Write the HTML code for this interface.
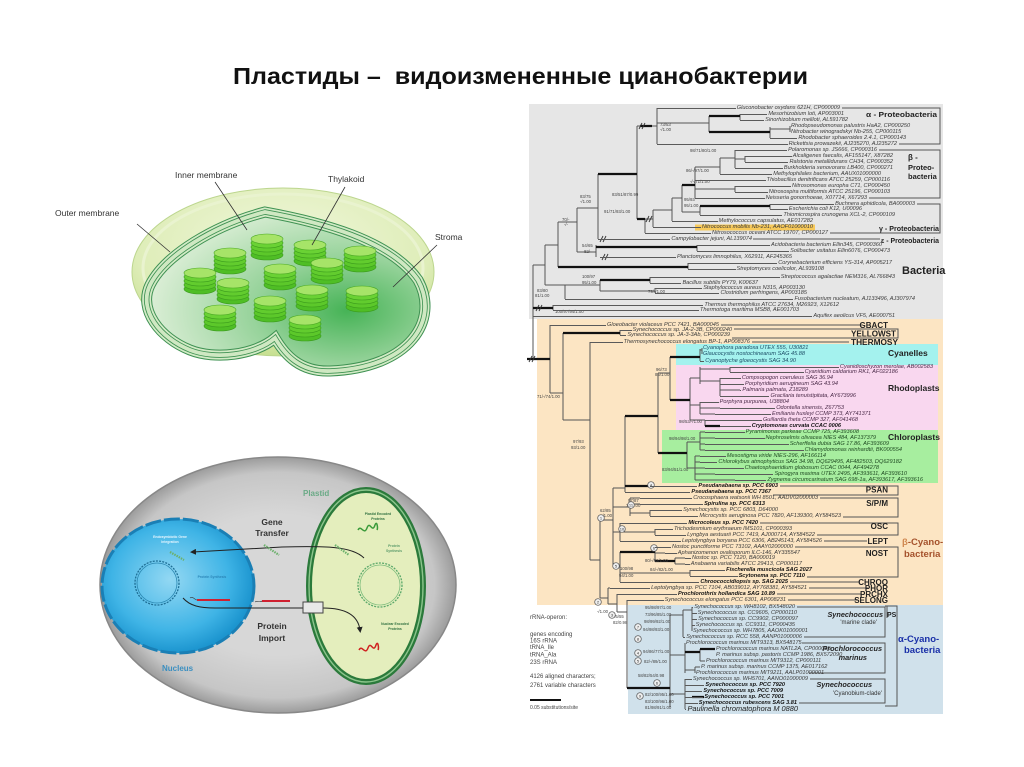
<!DOCTYPE html>
<html><head><meta charset="utf-8">
<style>
html,body{margin:0;padding:0;background:#fff}
#w{position:relative;width:1024px;height:767px;overflow:hidden;background:#fff}
svg{position:absolute;left:0;top:0}
.l{position:absolute;height:6px;display:flex;align-items:center;font:italic 5.6px/6px "Liberation Sans",sans-serif;color:#3a3a3a;white-space:nowrap}
.l:before{content:"";flex:1;border-top:1px solid #5a5a5a;margin-right:1px;min-width:0}
.b{font-weight:bold;color:#111}
.c{color:#1d4d66}
.p{color:#4a2a48}
.g{color:#1f4a22}
</style></head><body><div id="w">
<svg width="1024" height="767" viewBox="0 0 1024 767" font-family="Liberation Sans, sans-serif">
<defs>
<radialGradient id="disk" cx="0.5" cy="0.35" r="0.65"><stop offset="0" stop-color="#f1f7dc"/><stop offset="0.75" stop-color="#deedb8"/><stop offset="1" stop-color="#c6df90"/></radialGradient>
<radialGradient id="heart" cx="0.72" cy="0.62" r="0.75"><stop offset="0" stop-color="#46b356"/><stop offset="0.45" stop-color="#97d39b"/><stop offset="1" stop-color="#e2f1dc"/></radialGradient>
<radialGradient id="cellg" cx="0.5" cy="0.5" r="0.5"><stop offset="0.55" stop-color="#d7d7d7"/><stop offset="0.88" stop-color="#c6c6c6"/><stop offset="1" stop-color="#9c9c9c"/></radialGradient>
<radialGradient id="nucg" cx="0.45" cy="0.45" r="0.55"><stop offset="0" stop-color="#93d8f3"/><stop offset="0.7" stop-color="#3fb4e6"/><stop offset="1" stop-color="#1c95cf"/></radialGradient>
<g id="stk">
<ellipse cx="0" cy="17" rx="16" ry="5" fill="#4fbe25" stroke="#3a9a1c" stroke-width=".6"/>
<ellipse cx="0" cy="13" rx="16" ry="5" fill="#5cc82a" stroke="#3a9a1c" stroke-width=".6"/>
<ellipse cx="0" cy="9" rx="16" ry="5" fill="#62cc2e" stroke="#3a9a1c" stroke-width=".6"/>
<ellipse cx="0" cy="5" rx="16" ry="5" fill="#6ad234" stroke="#3a9a1c" stroke-width=".6"/>
<ellipse cx="0" cy="1" rx="16" ry="5" fill="#a6e468" stroke="#4aa824" stroke-width=".6"/>
</g>
<marker id="ah" markerWidth="6" markerHeight="6" refX="3" refY="3" orient="auto"><path d="M0 0L6 3L0 6Z" fill="#222"/></marker>
</defs>

<!-- Title -->
<text x="233" y="84" font-size="23" font-weight="bold" fill="#111" textLength="575" lengthAdjust="spacingAndGlyphs" style="white-space:pre">Пластиды –  видоизмененные цианобактерии</text>

<!-- Chloroplast -->
<ellipse cx="283" cy="272" rx="151" ry="84" fill="url(#disk)" stroke="#bcd68e" stroke-width="1"/>
<ellipse cx="283" cy="268" rx="140" ry="74" fill="none" stroke="#e9f3cf" stroke-width="3"/>
<path d="M265 212 C320 222 390 240 418 280 C440 320 410 368 330 371 C300 372 285 355 275 338 C255 355 215 360 190 350 C160 338 138 310 150 285 C165 255 215 225 265 212 Z" fill="url(#heart)" stroke="#3e9152" stroke-width="11"/>
<path d="M265 212 C320 222 390 240 418 280 C440 320 410 368 330 371 C300 372 285 355 275 338 C255 355 215 360 190 350 C160 338 138 310 150 285 C165 255 215 225 265 212 Z" fill="none" stroke="#d3ebc6" stroke-width="9"/>
<path d="M265 212 C320 222 390 240 418 280 C440 320 410 368 330 371 C300 372 285 355 275 338 C255 355 215 360 190 350 C160 338 138 310 150 285 C165 255 215 225 265 212 Z" fill="none" stroke="#3e9152" stroke-width="5.5"/>
<path d="M265 212 C320 222 390 240 418 280 C440 320 410 368 330 371 C300 372 285 355 275 338 C255 355 215 360 190 350 C160 338 138 310 150 285 C165 255 215 225 265 212 Z" fill="none" stroke="#cfe8c2" stroke-width="3.8"/>
<use href="#stk" x="267" y="238"/>
<use href="#stk" x="310" y="244"/>
<use href="#stk" x="360" y="250"/>
<use href="#stk" x="230" y="252"/>
<use href="#stk" x="327" y="262"/>
<use href="#stk" x="280" y="268"/>
<use href="#stk" x="200" y="272"/>
<use href="#stk" x="233" y="282"/>
<use href="#stk" x="312" y="289"/>
<use href="#stk" x="362" y="290"/>
<use href="#stk" x="270" y="300"/>
<use href="#stk" x="220" y="309"/>
<use href="#stk" x="305" y="319"/>
<g stroke="#333" stroke-width=".8">
<path d="M215 182L247 230"/><path d="M345 187L312 245"/><path d="M137 224L170 252"/><path d="M437 245L393 287"/>
</g>
<g font-size="8.5" fill="#333">
<text x="175" y="178">Inner membrane</text>
<text x="328" y="182">Thylakoid</text>
<text x="55" y="216">Outer membrane</text>
<text x="435" y="240">Stroma</text>
</g>

<!-- Cell diagram -->
<ellipse cx="278" cy="585" rx="178" ry="128" fill="url(#cellg)" stroke="#888" stroke-width="1.5"/>
<ellipse cx="178" cy="586" rx="76" ry="67" fill="url(#nucg)" stroke="#1a7fb5" stroke-width="3" stroke-dasharray="16 3"/>
<circle cx="157" cy="583" r="22" fill="none" stroke="#1e6f96" stroke-width="1.3" stroke-dasharray="2 1.2"/>
<circle cx="157" cy="583" r="20" fill="none" stroke="#2a86b0" stroke-width=".8"/>
<ellipse cx="366" cy="586" rx="57" ry="96" fill="#e4eebd" stroke="#2b7a3b" stroke-width="6"/>
<ellipse cx="366" cy="586" rx="57" ry="96" fill="none" stroke="#8cc58c" stroke-width="1.4"/>
<circle cx="380" cy="585" r="22" fill="none" stroke="#5aa86a" stroke-width="1.3" stroke-dasharray="2 1.2"/>
<circle cx="380" cy="585" r="20" fill="none" stroke="#7cbc7c" stroke-width=".8"/>
<path d="M364 558 C352 546 325 546 282 547 L193 552" fill="none" stroke="#222" stroke-width="1" marker-end="url(#ah)"/>
<path d="M183 598 C190 606 200 608 215 608 L303 608" fill="none" stroke="#222" stroke-width="1"/>
<path d="M323 608 C345 608 358 615 360 630" fill="none" stroke="#222" stroke-width="1" marker-end="url(#ah)"/>
<rect x="303" y="602" width="20" height="11" fill="#e8e8e8" stroke="#444" stroke-width="1"/>
<g stroke="#6bb06b" stroke-width="2.2" stroke-dasharray="1.5 1">
<path d="M170 552L184 560"/><path d="M264 545L279 555"/><path d="M335 545L349 555"/>
</g>
<path d="M197 600L230 600" stroke="#d02030" stroke-width="2"/><path d="M190 598 C193 596 195 600 197 600" stroke="#333" fill="none" stroke-width=".6"/>
<path d="M262 601L290 601" stroke="#d02030" stroke-width="2"/><path d="M255 602 C258 600 260 603 262 601" stroke="#333" fill="none" stroke-width=".6"/>
<path d="M358 530 c3 -6 6 6 9 -2 c3 -8 5 6 8 -3 c2 -5 3 3 2 5" stroke="#3a9a3a" stroke-width="1.5" fill="none"/>
<path d="M359 650 c3 -6 6 6 9 -2 c3 -8 5 6 8 -3 c2 -5 3 3 2 5" stroke="#d02020" stroke-width="1.5" fill="none"/>
<g font-weight="bold" fill="#333" font-size="8.5" text-anchor="middle">
<text x="272" y="525">Gene</text><text x="272" y="536">Transfer</text>
<text x="272" y="629">Protein</text><text x="272" y="641">Import</text>
</g>
<text x="303" y="496" font-size="8" font-weight="bold" fill="#6aaa86">Plastid</text>
<text x="162" y="671" font-size="8" font-weight="bold" fill="#3b8fc0">Nucleus</text>
<g font-size="3.4" font-weight="bold" text-anchor="middle">
<text x="170" y="538" fill="#e6f6ff">Endosymbiotic Gene</text><text x="170" y="543" fill="#e6f6ff">Integration</text>
<text x="212" y="578" fill="#2b86b8">Protein Synthesis</text>
<text x="378" y="515" fill="#2f6f3f">Plastid Encoded</text><text x="378" y="520" fill="#2f6f3f">Proteins</text>
<text x="394" y="547" fill="#5a9a6a">Protein</text><text x="394" y="552" fill="#5a9a6a">Synthesis</text>
<text x="395" y="625" fill="#2f6f3f">Nuclear Encoded</text><text x="395" y="630" fill="#2f6f3f">Proteins</text>
</g>

<!-- Tree panels -->
<rect x="529" y="104" width="414" height="215" fill="#e6e6e6"/>
<rect x="537" y="319" width="406" height="286" fill="#fce5c3"/>
<rect x="628" y="605" width="315" height="109" fill="#d0e1eb"/>
<rect x="676" y="344" width="262" height="21" fill="#a4f2ee"/>
<rect x="676" y="365" width="262" height="65" fill="#f9d7ef"/>
<rect x="662" y="430" width="276" height="53" fill="#a7ee9f"/>
<rect x="695" y="224.5" width="120" height="6" fill="#f7c95a"/>

<!-- tree thin lines -->
<g stroke="#555" stroke-width="1" fill="none">
<path d="M657 108V144 M637 126H657 M657 123H709 M709 116V132 M740 114V120 M770 127V138 M770 129H790 M790 126V132"/>
<path d="M695 167V198 M695 167H720 M720 158V174 M720 158H735 M735 150V168 M735 159H745 M745 156V162 M695 189H735 M735 186V192"/>
<path d="M682 185V212 M682 212H700 M700 206V215 M770 204V209 M672 198V221 M672 198H682 M653 210V227 M653 210H672 M645 219V233 M645 219H653 M637 126V219"/>
<path d="M598 174V239 M577 208V252 M577 208H598 M577 252H596 M596 245V257 M697 245V251 M558 222V267 M558 222H577 M688 263V269"/>
<path d="M545 245V285 M545 245H558 M545 285H565 M533 265V360 M533 265H545 M565 285V299 M565 285H600 M600 280V291 M600 291H655 M655 288V293 M650 277V283 M553 305V310"/>
<path d="M550 325V393 M550 393H563 M563 333V420 M620 330V335 M563 420H590 M590 342V560"/>
<path d="M658 373V453 M658 373H670 M670 357V400 M700 349V361 M700 350H702 M702 348V354"/>
<path d="M690 378V420 M690 378H700 M700 367V384 M700 369H730 M730 367V372 M700 381H720 M720 378V396 M720 390H740 M690 405H700 M700 402V414 M700 408H720 M700 414H715 M690 420H705 M705 420V426"/>
<path d="M687 442V468 M687 442H700 M700 432V450 M700 432H705 M700 438H715 M700 444H705 M700 450H705 M687 468H695 M695 456V480 M695 456H700 M695 462H700 M695 468H705 M695 474H715 M695 480H735"/>
<path d="M590 560H600 M600 520V598 M600 520H613 M613 488V567 M613 488H625 M625 416V492"/>
<path d="M613 507H630 M630 498V516 M630 498H640 M630 504H640 M630 513H650 M650 510V516"/>
<path d="M613 532H620 M620 523V541 M620 532H655 M655 529V535"/>
<path d="M613 567H620 M620 552V582 M655 547V561 M655 553H665 M675 558V564 M675 558H685 M675 564H685 M620 573H690 M690 570V576"/>
<path d="M600 598H608 M608 588V604 M608 588H610 M608 604H617 M617 594V612 M617 612H627 M627 600V688 M670 615V707"/>
<path d="M670 615H683 M683 610V637 M683 610H692 M692 607V631 M670 655H685 M685 643V673 M700 649V661 M700 661H705 M685 670H695 M695 667V673 M695 667H700 M670 694H685 M685 679V709"/>
<!-- group brackets -->
<path d="M842 108H940V144H899 M879 150H940V198H869 M917 204H940V233H830 M753 239H880"/>
<path d="M721 325H863 M734 329H898V338H732 M752 342H849"/>
<path d="M780 486H898V495H773 M820 498H898V517H843 M760 523H898V535H817 M824 541H867 M795 547H898V577H807 M790 582H860 M809 588H868 M777 594H861 M788 600H857"/>
<path d="M797 607H885V637H804 M802 643H885V673H809 M810 679H885V703H799 M885 606H897V706H885 M887 606V618"/>
</g>
<!-- thick branches -->
<g stroke="#111" stroke-width="2.3" fill="none">
<path d="M709 116H740 M709 132H770 M640 126H652 M682 185H695 M700 206H770 M598 174H637 M637 219H645 M596 247H697 M558 267H688 M600 280H650 M533 308H553"/>
<path d="M527 359H550 M563 333H620 M670 357H700 M670 400H690 M625 416H658 M658 453H687 M705 426H720 M625 486H650 M620 552H655 M655 561H675 M627 688H670 M685 652H700 M700 649H715 M692 697H704"/>
</g>
<g stroke="#333" stroke-width=".9">
<path d="M639 129l3 -6 M642 129l3 -6 M602 260l3 -6 M605 260l3 -6 M536 311l3 -6 M539 311l3 -6 M529 362l3 -6 M532 362l3 -6 M646 222l3 -6 M649 222l3 -6 M600 242l3 -6 M603 242l3 -6"/>
</g>

<!-- node labels -->
<g font-size="4.3" fill="#444">
<text x="660" y="126">73/53</text><text x="660" y="131">-/1.00</text>
<text x="580" y="198">83/75</text><text x="580" y="203">-/1.00</text>
<text x="562" y="221">70/-</text><text x="564" y="226">-/-</text>
<text x="604" y="213">91/71/93/1.00</text><text x="612" y="196">83/51/87/0.99</text>
<text x="684" y="201">95/93</text><text x="684" y="207">95/1.00</text>
<text x="686" y="172">86/-/97/1.00</text><text x="690" y="152">98/71/80/1.00</text><text x="690" y="183">-/-/71/1.00</text>
<text x="582" y="247">54/65</text><text x="584" y="253">82/-</text>
<text x="582" y="278">100/97</text><text x="582" y="284">95/1.00</text>
<text x="537" y="292">83/80</text><text x="535" y="297">81/1.00</text>
<text x="648" y="293">79/-/1.00</text><text x="555" y="313">100/97/94/1.00</text>
<text x="537" y="398">71/-/74/1.00</text>
<text x="573" y="443">97/93</text><text x="571" y="449">93/1.00</text>
<text x="656" y="371">96/73</text><text x="655" y="376">85/1.00</text>
<text x="669" y="440">98/94/98/1.00</text><text x="662" y="471">83/94/51/1.00</text><text x="679" y="423">98/53/-/1.00</text>
<text x="628" y="502">97/87</text><text x="626" y="507">74/1.00</text>
<text x="600" y="512">62/85</text><text x="601" y="517">-/1.00</text>
<text x="645" y="562">80/-/82/1.00</text><text x="650" y="571">84/-/82/1.00</text>
<text x="620" y="570">100/98</text><text x="619" y="577">94/1.00</text>
<text x="597" y="613">-/1.00</text><text x="613" y="618">75/55</text><text x="613" y="624">82/0.98</text>
<text x="645" y="609">95/98/97/1.00</text><text x="645" y="616">73/96/85/1.00</text><text x="644" y="623">98/99/92/1.00</text>
<text x="643" y="631">94/98/93/1.00</text><text x="643" y="653">94/86/77/1.00</text><text x="644" y="663">82/-/89/1.00</text>
<text x="638" y="677">58/82/54/0.98</text><text x="645" y="696">82/100/95/1.00</text><text x="645" y="703">83/100/96/1.00</text><text x="645" y="709">81/98/91/1.00</text>
</g>
<g fill="#eee" stroke="#555" stroke-width=".7">
<circle cx="601" cy="518" r="3.3"/><circle cx="651" cy="485" r="3.3"/><circle cx="631" cy="505" r="3.3"/><circle cx="622" cy="529" r="3.3"/>
<circle cx="616" cy="566" r="3.3"/><circle cx="654" cy="548" r="3.3"/><circle cx="598" cy="602" r="3.3"/><circle cx="612" cy="615" r="3.3"/>
<circle cx="638" cy="627" r="3.3"/><circle cx="638" cy="639" r="3.3"/><circle cx="638" cy="653" r="3.3"/><circle cx="638" cy="661" r="3.3"/>
<circle cx="657" cy="683" r="3.3"/><circle cx="640" cy="696" r="3.3"/>
</g>
<g font-size="4" fill="#333" text-anchor="middle">
<text x="601" y="519.5">1</text><text x="651" y="486.5">4</text><text x="631" y="506.5">11</text><text x="622" y="530.5">10</text>
<text x="616" y="567.5">5</text><text x="654" y="549.5">6</text><text x="598" y="603.5">2</text><text x="612" y="616.5">3</text>
<text x="638" y="628.5">7</text><text x="638" y="640.5">8</text><text x="638" y="654.5">4</text><text x="638" y="662.5">5</text>
<text x="657" y="684.5">6</text><text x="640" y="697.5">9</text>
</g>

<!-- group labels -->
<g font-weight="bold" fill="#222">
<text x="866" y="117" font-size="7.5" textLength="71" lengthAdjust="spacingAndGlyphs">α - Proteobacteria</text>
<text x="908" y="160" font-size="8">β -</text>
<text x="908" y="170" font-size="7.5">Proteo-</text>
<text x="908" y="179" font-size="7.5">bacteria</text>
<text x="879" y="231" font-size="7.5" textLength="60" lengthAdjust="spacingAndGlyphs">γ - Proteobacteria</text>
<text x="881" y="243" font-size="7.5" textLength="58" lengthAdjust="spacingAndGlyphs">ε - Proteobacteria</text>
<text x="902" y="274" font-size="11">Bacteria</text>
</g>
<g font-weight="bold" fill="#222" font-size="8" text-anchor="end">
<text x="888" y="328">GBACT</text>
<text x="896" y="336.5" textLength="45" lengthAdjust="spacingAndGlyphs">YELLOWST</text>
<text x="898" y="345" textLength="47" lengthAdjust="spacingAndGlyphs">THERMOSY</text>
<text x="888" y="492.5">PSAN</text>
<text x="888" y="506">S/P/M</text>
<text x="888" y="529">OSC</text>
<text x="888" y="544">LEPT</text>
<text x="888" y="556">NOST</text>
<text x="888" y="585">CHROO</text>
<text x="888" y="591">PHOR</text>
<text x="888" y="597">PRCHX</text>
<text x="888" y="603">SELONG</text>
</g>
<g font-weight="bold" fill="#222" font-size="8.5">
<text x="888" y="356">Cyanelles</text>
<text x="888" y="391">Rhodoplasts</text>
<text x="888" y="440">Chloroplasts</text>
<text x="887" y="617" font-size="7">PS</text>
</g>
<g font-weight="bold" font-size="9.5">
<text x="902" y="545" fill="#a5522c"><tspan fill="#d08850">β</tspan>-Cyano-</text>
<text x="904" y="557" fill="#a5522c">bacteria</text>
<text x="898" y="642" fill="#1a30a8">α-Cyano-</text>
<text x="904" y="653" fill="#1a30a8">bacteria</text>
</g>
<g fill="#222" font-size="7.3" font-weight="bold" font-style="italic" text-anchor="end">
<text x="883" y="617">Synechococcus</text>
<text x="882" y="651">Prochlorococcus</text>
<text x="867" y="660">marinus</text>
<text x="872" y="687">Synechococcus</text>
</g>
<g fill="#333" font-size="6" text-anchor="end">
<text x="877" y="624">'marine clade'</text>
<text x="882" y="695">'Cyanobium-clade'</text>
</g>

<!-- legend -->
<g font-size="6" fill="#444">
<text x="530" y="619">rRNA-operon:</text>
<text x="530" y="636">genes encoding</text>
<text x="530" y="642.5">16S rRNA</text>
<text x="530" y="649">tRNA_Ile</text>
<text x="530" y="656.5">tRNA_Ala</text>
<text x="530" y="664">23S rRNA</text>
<text x="530" y="678">4126 aligned characters;</text>
<text x="530" y="687">2761 variable characters</text>
<text x="530" y="709" font-size="5">0.05 substitutions/site</text>
</g>
<path d="M530 700H561" stroke="#111" stroke-width="2"/>
</svg>

<!-- gray leaves -->
<div class="l" style="left:657px;top:105px;width:183px">Gluconobacter oxydans 621H, CP000009</div>
<div class="l" style="left:740px;top:111px;width:104px">Mesorhizobium loti, AP003001</div>
<div class="l" style="left:740px;top:117px;width:108px">Sinorhizobium meliloti, AL591782</div>
<div class="l" style="left:790px;top:123px;width:113px">Rhodopseudomonas palustris HaA2, CP000250</div>
<div class="l" style="left:790px;top:129px;width:108px">Nitrobacter winogradskyi Nb-255, CP000115</div>
<div class="l" style="left:770px;top:135px;width:136px">Rhodobacter sphaeroides 2.4.1, CP000143</div>
<div class="l" style="left:657px;top:141px;width:240px">Rickettsia prowazekii, AJ235270, AJ235272</div>
<div class="l" style="left:735px;top:147px;width:142px">Polaromonas sp. JS666, CP000316</div>
<div class="l" style="left:745px;top:153px;width:148px">Alcaligenes faecalis, AF155147, X87282</div>
<div class="l" style="left:745px;top:159px;width:148px">Ralstonia metallidurans CH34, CP000352</div>
<div class="l" style="left:735px;top:165px;width:158px">Burkholderia xenovorans LB400, CP000271</div>
<div class="l" style="left:720px;top:171px;width:161px">Methylophilales bacterium, AAUX01000000</div>
<div class="l" style="left:695px;top:177px;width:195px">Thiobacillus denitrificans ATCC 25259, CP000116</div>
<div class="l" style="left:735px;top:183px;width:155px">Nitrosomonas europha C71, CP000450</div>
<div class="l" style="left:735px;top:189px;width:155px">Nitrosospira multiformis ATCC 25196, CP000103</div>
<div class="l" style="left:695px;top:195px;width:172px">Neisseria gonorrhoeae, X07714, X67293</div>
<div class="l" style="left:770px;top:201px;width:145px">Buchnera aphidicola, BA000003</div>
<div class="l" style="left:770px;top:206px;width:92px">Escherichia coli K12, U00096</div>
<div class="l" style="left:700px;top:212px;width:195px">Thiomicrospira crunogena XCL-2, CP000109</div>
<div class="l" style="left:672px;top:218px;width:141px">Methylococcus capsulatus, AE017282</div>
<div class="l" style="left:653px;top:224px;width:160px">Nitrococcus mobilis Nb-231, AAOF01000010</div>
<div class="l" style="left:645px;top:230px;width:183px">Nitrosococcus oceani ATCC 19707, CP000127</div>
<div class="l" style="left:598px;top:236px;width:154px">Campylobacter jejuni, AL139074</div>
<div class="l" style="left:697px;top:242px;width:185px">Acidobacteria bacterium Ellin345, CP000360</div>
<div class="l" style="left:697px;top:248px;width:193px">Solibacter usitatus Ellin6076, CP000473</div>
<div class="l" style="left:600px;top:254px;width:192px">Planctomyces limnophilus, X62911, AF245365</div>
<div class="l" style="left:688px;top:260px;width:204px">Corynebacterium efficiens YS-314, AP005217</div>
<div class="l" style="left:688px;top:266px;width:136px">Streptomyces coelicolor, AL939108</div>
<div class="l" style="left:650px;top:274px;width:245px">Streptococcus agalactiae NEM316, AL766843</div>
<div class="l" style="left:650px;top:280px;width:108px">Bacillus subtilis PY79, K00637</div>
<div class="l" style="left:655px;top:285px;width:150px">Staphylococcus aureus N315, AP003130</div>
<div class="l" style="left:655px;top:290px;width:152px">Clostridium perfringens, AP003185</div>
<div class="l" style="left:565px;top:296px;width:350px">Fusobacterium nucleatum, AJ133496, AJ307974</div>
<div class="l" style="left:553px;top:302px;width:286px">Thermus thermophilus ATCC 27634, M26923, X12612</div>
<div class="l" style="left:553px;top:307px;width:246px">Thermotoga maritima MSB8, AE001703</div>
<div class="l" style="left:533px;top:313px;width:362px">Aquifex aeolicus VF5, AE000751</div>

<!-- orange leaves -->
<div class="l" style="left:550px;top:322px;width:169px">Gloeobacter violaceus PCC 7421, BA000045</div>
<div class="l" style="left:620px;top:327px;width:112px">Synechococcus sp. JA-2-3B, CP000240</div>
<div class="l" style="left:620px;top:332px;width:110px">Synechococcus sp. JA-3-3Ab, CP000239</div>
<div class="l" style="left:590px;top:339px;width:160px">Thermosynechococcus elongatus BP-1, AP008376</div>
<div class="l c" style="left:702px;top:345px;width:95px">Cyanophora paradoxa UTEX 555, U30821</div>
<div class="l c" style="left:702px;top:351px;width:97px">Glaucocystis nostochinearum SAG 45.88</div>
<div class="l c" style="left:700px;top:358px;width:96px">Cyanoptyche gloeocystis SAG 34.90</div>
<div class="l p" style="left:730px;top:364px;width:203px">Cyanidioschyzon merolae, AB002583</div>
<div class="l p" style="left:730px;top:369px;width:168px">Cyanidium caldarium RK1, AF022186</div>
<div class="l p" style="left:720px;top:375px;width:113px">Compsopogon coeruleus SAG 36.94</div>
<div class="l p" style="left:720px;top:381px;width:118px">Porphyridium aerugineum SAG 43.94</div>
<div class="l p" style="left:740px;top:387px;width:68px">Palmaria palmata, Z18289</div>
<div class="l p" style="left:720px;top:393px;width:136px">Gracilaria tenuistipitata, AY673996</div>
<div class="l p" style="left:700px;top:399px;width:89px">Porphyra purpurea, U38804</div>
<div class="l p" style="left:720px;top:405px;width:124px">Odontella sinensis, Z67753</div>
<div class="l p" style="left:715px;top:411px;width:156px">Emiliania huxleyi CCMP 373, AY741371</div>
<div class="l p" style="left:705px;top:417px;width:153px">Guillardia theta CCMP 327, AF041468</div>
<div class="l b" style="left:720px;top:423px;width:121px">Cryptomonas curvata CCAC 0006</div>
<div class="l g" style="left:705px;top:429px;width:154px">Pyramimonas parkeae CCMP 725, AF393608</div>
<div class="l g" style="left:715px;top:435px;width:161px">Nephroselmis olivacea NIES 484, AF137379</div>
<div class="l g" style="left:705px;top:441px;width:184px">Scherffelia dubia SAG 17.86, AF393609</div>
<div class="l g" style="left:705px;top:447px;width:197px">Chlamydomonas reinhardtii, BK000554</div>
<div class="l g" style="left:700px;top:453px;width:126px">Mesostigma viride NIES-296, AF166114</div>
<div class="l g" style="left:700px;top:459px;width:202px">Chlorokybus atmophyticus SAG 34.98, DQ629495, AF482503, DQ629182</div>
<div class="l g" style="left:705px;top:465px;width:174px">Chaetosphaeridium globosum CCAC 0044, AF494278</div>
<div class="l g" style="left:715px;top:471px;width:192px">Spirogyra maxima UTEX 2495, AF393611, AF393610</div>
<div class="l g" style="left:735px;top:477px;width:188px">Zygnema circumcarinatum SAG 698-1a, AF393617, AF393616</div>
<div class="l b" style="left:650px;top:483px;width:128px">Pseudanabaena sp. PCC 6903</div>
<div class="l b" style="left:625px;top:489px;width:146px">Pseudanabaena sp. PCC 7367</div>
<div class="l" style="left:640px;top:495px;width:178px">Crocosphaera watsonii WH 8501, AADV02000003</div>
<div class="l b" style="left:640px;top:501px;width:125px">Spirulina sp. PCC 6313</div>
<div class="l" style="left:650px;top:507px;width:128px">Synechocystis sp. PCC 6803, D64000</div>
<div class="l" style="left:650px;top:513px;width:191px">Microcystis aeruginosa PCC 7820, AF139300, AY584523</div>
<div class="l b" style="left:620px;top:520px;width:138px">Microcoleus sp. PCC 7420</div>
<div class="l" style="left:655px;top:526px;width:137px">Trichodesmium erythraeum IMS101, CP000393</div>
<div class="l" style="left:655px;top:532px;width:160px">Lyngbya aestuarii PCC 7419, AJ000714, AY584522</div>
<div class="l" style="left:620px;top:538px;width:202px">Leptolyngbya boryana PCC 6306, AB245143, AY584526</div>
<div class="l" style="left:655px;top:544px;width:138px">Nostoc punctiforme PCC 73102, AAAY02000000</div>
<div class="l" style="left:665px;top:550px;width:135px">Aphanizomenon ovalisporum ILC-146, AY335547</div>
<div class="l" style="left:685px;top:555px;width:90px">Nostoc sp. PCC 7120, BA000019</div>
<div class="l" style="left:685px;top:561px;width:117px">Anabaena variabilis ATCC 29413, CP000117</div>
<div class="l b" style="left:690px;top:567px;width:122px">Fischerella muscicola SAG 2027</div>
<div class="l b" style="left:690px;top:573px;width:115px">Scytonema sp. PCC 7110</div>
<div class="l b" style="left:620px;top:579px;width:168px">Chroococcidiopsis sp. SAG 2025</div>
<div class="l" style="left:610px;top:585px;width:197px">Leptolyngbya sp. PCC 7104, AB039012, AY768381, AY584521</div>
<div class="l b" style="left:617px;top:591px;width:158px">Prochlorothrix hollandica SAG 10.89</div>
<div class="l" style="left:627px;top:597px;width:159px">Synechococcus elongatus PCC 6301, AP008231</div>

<!-- blue leaves -->
<div class="l" style="left:692px;top:604px;width:103px">Synechococcus sp. WH8102, BX548020</div>
<div class="l" style="left:692px;top:610px;width:105px">Synechococcus sp. CC9605, CP000110</div>
<div class="l" style="left:692px;top:616px;width:106px">Synechococcus sp. CC9902, CP000097</div>
<div class="l" style="left:692px;top:622px;width:103px">Synechococcus sp. CC9311, CP000435</div>
<div class="l" style="left:692px;top:628px;width:108px">Synechococcus sp. WH7805, AAOK01000001</div>
<div class="l" style="left:683px;top:634px;width:119px">Synechococcus sp. RCC 558, AANP01000006</div>
<div class="l" style="left:685px;top:640px;width:115px">Prochlorococcus marinus MIT9313, BX548175</div>
<div class="l" style="left:715px;top:646px;width:90px">Prochlorococcus marinus NATL2A, CP000095</div>
<div class="l" style="left:715px;top:652px;width:100px">P. marinus subsp. pastoris CCMP 1986, BX572090</div>
<div class="l" style="left:705px;top:658px;width:98px">Prochlorococcus marinus MIT9312, CP000111</div>
<div class="l" style="left:700px;top:664px;width:108px">P. marinus subsp. marinus CCMP 1375, AE017162</div>
<div class="l" style="left:695px;top:670px;width:112px">Prochlorococcus marinus MIT9211, AALP01000001</div>
<div class="l" style="left:685px;top:676px;width:123px">Synechococcus sp. WH5701, AANO01000009</div>
<div class="l b" style="left:685px;top:682px;width:100px">Synechococcus sp. PCC 7920</div>
<div class="l b" style="left:685px;top:688px;width:98px">Synechococcus sp. PCC 7009</div>
<div class="l b" style="left:685px;top:694px;width:99px">Synechococcus sp. PCC 7001</div>
<div class="l b" style="left:685px;top:700px;width:112px">Synechococcus rubescens SAG 3.81</div>
<div class="l" style="left:685px;top:705px;width:113px;height:8px;font-size:7.4px;line-height:8px;color:#222">Paulinella chromatophora M 0880</div>
</div></body></html>
